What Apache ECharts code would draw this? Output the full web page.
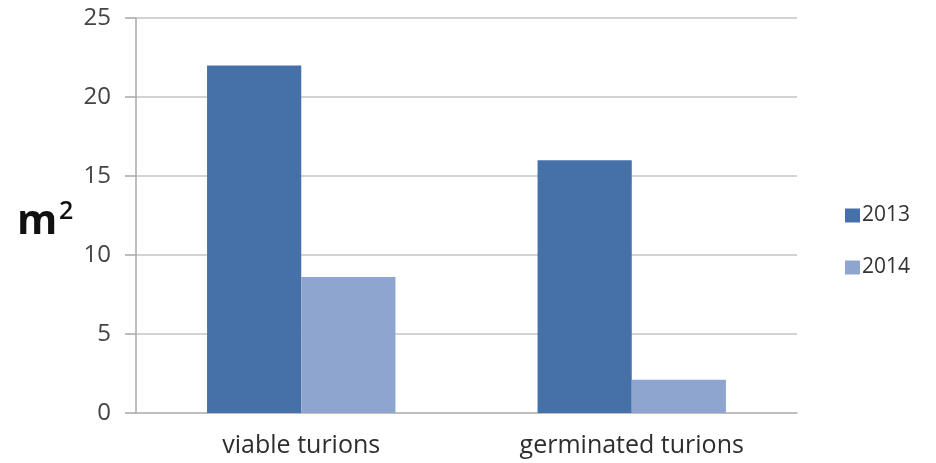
<!DOCTYPE html>
<html>
<head>
<meta charset="utf-8">
<script src="https://cdn.jsdelivr.net/npm/echarts@6/dist/echarts.min.js"></script>
<style>
html,body{margin:0;padding:0;background:#ffffff;}
#chart{width:936px;height:463px;}
</style>
</head>
<body>
<div id="chart"></div>
<script>
const categories = ['viable turions', 'germinated turions'];
const seriesNames = ['2013', '2014'];
const values2013 = [22, 16];
const values2014 = [8.6, 2.1];
const yTicks = [0, 5, 10, 15, 20, 25];
const yUnitBase = 'm';
const yUnitExp = '2';

const chart = echarts.init(document.getElementById('chart'));
const FONT = '"Open Sans", sans-serif';
chart.setOption({
  animation: false,
  backgroundColor: '#ffffff',
  grid: { left: 136, right: 139, top: 18, bottom: 50, containLabel: false },
  legend: {
    data: seriesNames,
    orient: 'vertical',
    left: 840,
    top: 200,
    itemWidth: 15,
    itemHeight: 14,
    itemGap: 31,
    icon: 'rect',
    textStyle: { fontFamily: FONT, fontSize: 21, color: '#333333', lineHeight: 20, padding: [0, 0, 0, -3] }
  },
  graphic: [{
    type: 'text',
    left: 17,
    top: 202,
    style: { text: yUnitBase, font: 'bold 41px "Open Sans", sans-serif', fill: '#111111' }
  }, {
    type: 'text',
    left: 59,
    top: 199,
    style: { text: yUnitExp, font: '600 25px "Open Sans", sans-serif', fill: '#111111' }
  }],
  xAxis: {
    type: 'category',
    data: categories,
    axisLine: { show: true, lineStyle: { color: '#b8b8b8', width: 1.5 } },
    axisTick: { show: false },
    axisLabel: { fontFamily: FONT, fontSize: 25, color: '#2e2e2e', margin: 20 }
  },
  yAxis: {
    type: 'value',
    min: 0,
    max: 25,
    interval: 5,
    axisLine: { show: true, lineStyle: { color: '#a8a8a8', width: 1.5 } },
    axisTick: { show: true, length: 11, lineStyle: { color: '#a8a8a8', width: 1.5 } },
    splitLine: { show: true, lineStyle: { color: '#c4c4c4', width: 1.5 } },
    axisLabel: {
      fontFamily: FONT, fontSize: 24, color: '#444444', margin: 25,
      formatter: function (v) { return yTicks.indexOf(v) >= 0 ? String(v) : ''; }
    }
  },
  series: [
    { name: seriesNames[0], type: 'bar', data: values2013, barGap: '0%', barCategoryGap: '43%',
      itemStyle: { color: '#4570a8' } },
    { name: seriesNames[1], type: 'bar', data: values2014, barGap: '0%', barCategoryGap: '43%',
      itemStyle: { color: '#8ea5cf' } }
  ]
});
</script>
</body>
</html>
